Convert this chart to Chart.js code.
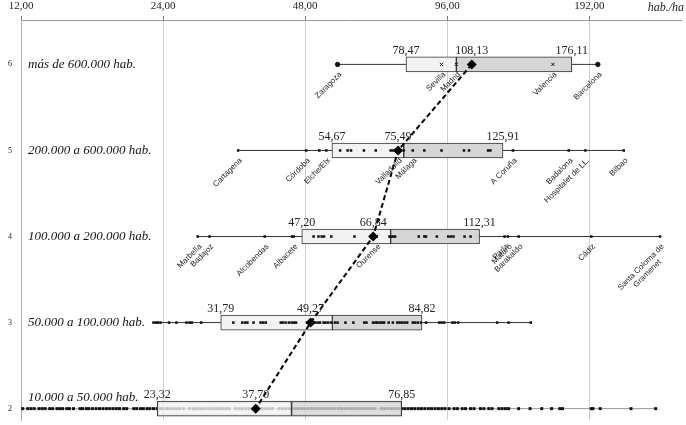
<!DOCTYPE html>
<html>
<head>
<meta charset="utf-8">
<script src="https://cdn.jsdelivr.net/npm/chart.js@4.4.1/dist/chart.umd.min.js"></script>
<style>
  html, body { margin: 0; padding: 0; background: #fff; }
  #wrap { width: 686px; height: 425px; }
</style>
</head>
<body>
<div id="wrap"><canvas id="chart"></canvas></div>
<script>
// ─── Data ──────────────────────────────────────────────────────────────────
const rows = [6, 5, 4, 3, 2];
const rowLabels = [
  'más de 600.000 hab.',
  '200.000 a 600.000 hab.',
  '100.000 a 200.000 hab.',
  '50.000 a 100.000 hab.',
  '10.000 a 50.000 hab.',
];
const xTicks = [12, 24, 48, 96, 192];

// box statistics per row (hab./ha)
const q1      = [78.47, 54.67, 47.20, 31.79, 23.32];
const medians = [100.3, 77.6, 72.8, 54.8, 44.9];
const means   = [108.13, 75.49, 66.84, 49.27, 37.70];
const q3      = [176.11, 125.91, 112.31, 84.82, 76.85];
const whiskerMin = [56.2, 34.6, 28.4, 22.9, 12.1];
const whiskerMax = [200.0, 226.9, 270.8, 144.2, 265.2];

// individual municipalities
const pts6 = [56.2, 93.3, 100.3, 160.6, 200.0];
const pts5 = [34.6, 48.2, 51.4, 53.2, 56.9, 59.0, 60.0, 63.9, 67.7, 72.8, 73.6, 75.5,
  77.6, 81.1, 85.8, 93.3, 104.1, 106.7, 117.1, 118.4, 132.2, 173.5, 188.2, 226.9];
const pts4 = [28.4, 30.1, 39.4, 45.0, 45.4, 50.0, 51.2, 52.0, 52.6, 54.5, 61.0, 66.3,
  67.2, 68.0, 72.4, 72.8, 73.6, 74.4, 83.5, 85.8, 86.5, 91.2, 96.4, 97.6, 98.9, 104.4,
  107.5, 126.9, 129.0, 135.9, 193.7, 270.8];
const pts3 = [22.9, 23.2, 23.4, 23.7, 24.7, 25.6, 26.9, 27.3, 27.6, 28.9, 33.8, 35.3,
  35.8, 36.2, 37.3, 38.6, 39.1, 39.6, 42.6, 43.0, 43.6, 44.3, 44.9, 45.4, 45.9, 48.4,
  49.0, 49.5, 50.4, 51.0, 51.6, 52.5, 53.0, 53.7, 54.5, 55.5, 56.2, 58.4, 60.7, 64.0,
  64.7, 66.8, 67.6, 68.2, 69.0, 69.8, 70.5, 72.1, 73.6, 75.2, 76.0, 76.9, 77.9, 78.9,
  81.1, 82.0, 83.1, 84.4, 86.5, 92.3, 93.3, 94.5, 98.4, 99.5, 101.1, 122.4, 129.4, 144.2];
const pts2 = [12.1, 12.4, 12.6, 12.8, 13.1, 13.3, 13.5, 13.8, 14.0, 14.3, 14.5, 14.7,
  15.0, 15.2, 15.5, 16.0, 16.2, 16.5, 16.7, 17.0, 17.3, 17.6, 17.9, 18.2, 18.5, 18.8,
  19.1, 19.4, 19.8, 20.1, 20.8, 21.1, 21.5, 21.8, 22.2, 22.5, 22.9, 23.3, 23.7, 24.0,
  24.4, 24.8, 25.2, 25.6, 26.0, 26.5, 27.3, 27.8, 28.2, 28.7, 29.1, 29.6, 30.1, 30.6,
  31.1, 31.6, 32.1, 32.6, 33.1, 34.2, 34.8, 35.3, 35.9, 36.5, 37.1, 37.7, 38.3, 38.9,
  39.6, 40.2, 40.9, 42.2, 42.9, 43.6, 44.3, 44.9, 45.7, 46.4, 47.2, 47.9, 48.7, 49.5,
  50.3, 51.1, 52.0, 52.8, 53.7, 54.6, 55.4, 56.4, 57.3, 58.2, 59.2, 60.1, 61.1, 62.1,
  63.1, 64.2, 65.2, 66.3, 67.4, 69.6, 70.7, 71.9, 73.1, 74.3, 75.5, 76.8, 78.0, 79.3,
  80.6, 81.9, 83.3, 84.6, 86.0, 87.5, 88.9, 90.4, 91.9, 93.4, 94.9, 96.8, 99.2, 100.8,
  103.2, 104.9, 107.5, 109.3, 112.8, 114.7, 117.5, 119.4, 123.4, 125.4, 127.4, 129.4,
  135.9, 143.7, 152.1, 159.6, 166.1, 168.3, 193.7, 195.3, 202.3, 235.1, 265.2];

// named municipalities
const names6 = ['Zaragoza', 'Sevilla', 'Madrid', 'Valencia', 'Barcelona'];
const vals6  = [56.2, 93.3, 100.3, 160.6, 200.0];
const names5 = ['Cartagena', 'Córdoba', 'Elche/Elx', 'Valladolid', 'Málaga', 'A Coruña',
  'Badalona', 'Hospitalet de LL.', 'Bilbao'];
const vals5  = [34.6, 48.2, 53.2, 75.5, 81.1, 132.2, 173.5, 188.2, 226.9];
const names4 = ['Marbella', 'Badajoz', 'Alcobendas', 'Albacete', 'Ourense', 'Parla',
  'Mataró', 'Barakaldo', 'Cádiz', 'Santa Coloma de\nGramenet'];
const vals4  = [28.4, 30.1, 39.4, 45.4, 68.0, 126.9, 129.0, 135.9, 193.7, 270.8];

// ─── Helpers ───────────────────────────────────────────────────────────────
const SERIF = "'Liberation Serif', 'Times New Roman', serif";
const SANS = "'Liberation Sans', Arial, sans-serif";
const comma = v => Number(v).toFixed(2).replace('.', ',');

const rowPoints = [pts6, pts5, pts4, pts3];
const cityLabels = [
  { row: 6, names: names6, values: vals6 },
  { row: 5, names: names5, values: vals5 },
  { row: 4, names: names4, values: vals4 },
];

// Text drawn on top: row numbers, quartile / mean values, group names, city names, unit
const annotations = {
  id: 'annotations',
  afterDatasetsDraw(chart) {
    const { ctx, scales: { x, y } } = chart;
    ctx.save();
    ctx.fillStyle = '#222';

    // row numbers (drawn here so the y axis adds no padding)
    ctx.font = `8px ${SERIF}`;
    ctx.textAlign = 'right';
    ctx.textBaseline = 'middle';
    rows.forEach(r => ctx.fillText(String(r), x.left - 9, y.getPixelForValue(r)));

    ctx.font = `12px ${SERIF}`;
    ctx.textAlign = 'center';
    ctx.textBaseline = 'bottom';
    rows.forEach((r, i) => {
      const py = y.getPixelForValue(r) - 8;
      [q1[i], means[i], q3[i]].forEach(v => ctx.fillText(comma(v), x.getPixelForValue(v), py));
    });

    ctx.font = `italic 13px ${SERIF}`;
    ctx.fillStyle = '#111';
    ctx.textAlign = 'left';
    ctx.textBaseline = 'middle';
    rows.forEach((r, i) => {
      let py = y.getPixelForValue(r);
      if (r === 2) py -= 11; // bottom group name sits above its long whisker
      ctx.fillText(rowLabels[i], x.left + 7, py);
    });

    ctx.font = `8px ${SANS}`;
    ctx.fillStyle = '#222';
    ctx.textBaseline = 'top';
    cityLabels.forEach(({ row, names, values }) => {
      const py = y.getPixelForValue(row) + 6;
      names.forEach((name, j) => {
        ctx.save();
        ctx.translate(x.getPixelForValue(values[j]), py);
        ctx.rotate(-Math.PI / 4);
        const lines = name.split('\n');
        const w0 = ctx.measureText(lines[0]).width;
        lines.forEach((line, k) => {
          ctx.textAlign = k === 0 ? 'right' : 'center';
          ctx.fillText(line, k === 0 ? 0 : -w0 / 2, k * 9);
        });
        ctx.restore();
      });
    });

    ctx.font = `italic 12px ${SERIF}`;
    ctx.fillStyle = '#222';
    ctx.textAlign = 'right';
    ctx.textBaseline = 'middle';
    ctx.fillText('hab./ha', chart.width - 2, 8);
    ctx.restore();
  }
};

// ─── Datasets ──────────────────────────────────────────────────────────────
const datasets = [
  // dashed line through the group means
  {
    type: 'line',
    data: means.map((m, i) => ({ x: m, y: rows[i] })),
    borderColor: '#000',
    borderWidth: 2,
    borderDash: [5, 3],
    pointStyle: 'rectRot',
    pointRadius: 5,
    pointBackgroundColor: '#000',
    pointBorderWidth: 0,
    order: 0,
  },
  // municipalities, rows 6 to 3 (drawn over the boxes)
  ...rowPoints.map((pts, i) => ({
    type: 'scatter',
    data: pts.map(v => ({ x: v, y: rows[i] })),
    pointStyle: c => rows[i] === 6 ? (c.raw && c.raw.x > q1[0] && c.raw.x < q3[0] ? 'crossRot' : 'circle') : 'rect',
    pointRadius: rows[i] === 6 ? 2.2 : 1.8,
    pointBackgroundColor: '#111',
    pointBorderColor: '#111',
    pointBorderWidth: rows[i] === 6 ? 1 : 0,
    order: 1,
  })),
  // box halves: Q1 → median, median → Q3
  {
    type: 'bar',
    indexAxis: 'y',
    grouped: false,
    barThickness: 15,
    data: rows.map((r, i) => ({ x: [q1[i], medians[i]], y: r })),
    backgroundColor: c => c.dataIndex === 4 ? 'rgba(242,242,242,0.8)' : '#f2f2f2',
    borderColor: '#333',
    borderWidth: 1,
    borderSkipped: false,
    order: 2,
  },
  {
    type: 'bar',
    indexAxis: 'y',
    grouped: false,
    barThickness: 15,
    data: rows.map((r, i) => ({ x: [medians[i], q3[i]], y: r })),
    backgroundColor: c => c.dataIndex === 4 ? 'rgba(214,214,214,0.8)' : '#d6d6d6',
    borderColor: '#333',
    borderWidth: 1,
    borderSkipped: false,
    order: 2,
  },
  // smallest group: points sit under the (semi-transparent) box
  {
    type: 'scatter',
    data: pts2.map(v => ({ x: v, y: 2 })),
    pointStyle: 'rect',
    pointRadius: 2.1,
    pointBackgroundColor: '#111',
    pointBorderWidth: 0,
    order: 3,
  },
  // whiskers
  ...rows.map((r, i) => ({
    type: 'line',
    data: [{ x: whiskerMin[i], y: r }, { x: whiskerMax[i], y: r }],
    borderColor: r === 2 ? '#999' : '#333',
    borderWidth: 1,
    pointRadius: 0,
    order: 4,
  })),
];

new Chart(document.getElementById('chart'), {
  type: 'scatter',
  data: { datasets },
  plugins: [annotations],
  options: {
    responsive: true,
    maintainAspectRatio: false,
    devicePixelRatio: 1,
    animation: false,
    events: [],
    layout: { padding: 0 },
    plugins: { legend: { display: false }, tooltip: { enabled: false } },
    scales: {
      x: {
        type: 'logarithmic',
        position: 'top',
        min: 12,
        max: 300,
        offset: false,
        afterBuildTicks: s => { s.ticks = xTicks.map(v => ({ value: v })); },
        afterFit: s => { s.height = 20; },
        ticks: {
          font: { family: SERIF, size: 11 },
          color: '#222',
          padding: 3,
          autoSkip: false,
          maxRotation: 0,
          callback: v => comma(v),
        },
        grid: { color: '#cfcfcf', tickColor: '#777', tickLength: 4, offset: false },
        border: { color: '#999' },
      },
      y: {
        type: 'linear',
        min: 1.868,
        max: 6.516,
        offset: false,
        afterBuildTicks: s => { s.ticks = rows.map(v => ({ value: v })); },
        afterFit: s => { s.width = 21; },
        ticks: { display: false },
        grid: { color: 'transparent', drawTicks: false, offset: false },
        border: { color: '#aaa' },
      },
    },
  },
});
</script>
</body>
</html>
